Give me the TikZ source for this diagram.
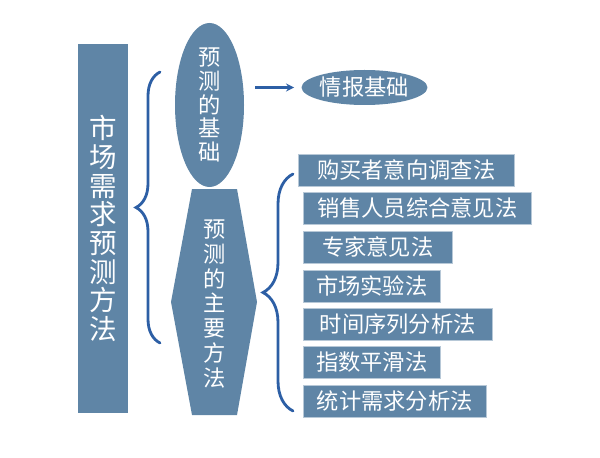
\documentclass[tikz,border=0pt]{standalone}
\usepackage{fontspec}
\newfontfamily\cjk{Noto Sans CJK SC}
\usepackage{tikz}
\usetikzlibrary{shapes.geometric}
\usetikzlibrary{calc}
\usetikzlibrary{decorations.pathreplacing}
\definecolor{steel}{RGB}{95,133,166}
\definecolor{bracecol}{RGB}{45,95,165}
\newcommand{\pxu}{0.03cm}
\tikzset{
every picture/.style={line width=0.8pt, >=stealth},
%%%%%%%%%%  Node styles
titlebox/.style={fill=steel, text=white, inner sep=0, minimum width=50*\pxu,
                 minimum height=369*\pxu, align=center,
                 font=\cjk\fontsize{23.5}{24.5}\selectfont},
basis/.style={ellipse, fill=steel, text=white, inner sep=0,
              minimum width=69*\pxu, minimum height=164*\pxu, align=center,
              font=\cjk\fontsize{19}{20.4}\selectfont},
info/.style={ellipse, fill=steel, text=white, inner sep=0,
             minimum width=125*\pxu, minimum height=35*\pxu,
             font=\cjk\fontsize{19}{20}\selectfont},
vtext/.style={text=white, inner sep=0, align=center,
              font=\cjk\fontsize{19}{21.3}\selectfont},
method/.style={fill=steel, draw=steel!45, thin, text=white, inner sep=0,
               minimum height=32*\pxu, anchor=west,
               font=\cjk\fontsize{19}{20}\selectfont},
%%%% different line styles:
bracket/.style={draw=bracecol, line width=2.4pt, line cap=round, decorate,
                decoration={brace, amplitude=#1}},
link/.style={->, draw=bracecol, line width=2pt}
}

\begin{document}
\begin{tikzpicture}[x=0.03cm, y=-0.03cm]
\useasboundingbox (0,0) rectangle (600,457);
%%%%%%% left column
\node[titlebox] (title) at (103,228.5) {市\\场\\需\\求\\预\\测\\方\\法};
\coordinate (bigtop) at (160,72);
\coordinate (bigbot) at (160,343);
\draw[bracket=0.72cm] (bigbot) -- (bigtop);
%%%%%%% middle column
\node[basis] (base) at (209.5,105) {预\\测\\的\\基\\础};
\fill[steel] (192,189) -- (237,189) -- (257,302) -- (237,415)
             -- (192,415) -- (171,302) -- cycle;
\node[vtext] (mainway) at (214.5,304) {预\\测\\的\\主\\要\\方\\法};
\node[info] (infobase) at (364.5,87.5) {情报基础};
\draw[link] ($(base.east |- infobase.west)+(11,0)$) -- ($(infobase.west)+(-7,0)$);
\coordinate (smalltop) at (293,174);
\coordinate (smallbot) at (293,411);
\draw[bracket=0.9cm] (smallbot) -- (smalltop);
%%%%%%% methods
\node[method, minimum width=216*\pxu] (buyer) at (298,170) {购买者意向调查法};
\node[method, minimum width=228*\pxu] (sales) at (303,208) {销售人员综合意见法};
\node[method, minimum width=149*\pxu] (expert) at (303,247) {专家意见法};
\node[method, minimum width=137*\pxu] (test) at (303,286) {市场实验法};
\node[method, minimum width=189*\pxu] (series) at (303,324) {时间序列分析法};
\node[method, minimum width=137*\pxu] (smooth) at (303,362) {指数平滑法};
\node[method, minimum width=183*\pxu] (stat) at (303,401) {统计需求分析法};
\end{tikzpicture}
\end{document}
